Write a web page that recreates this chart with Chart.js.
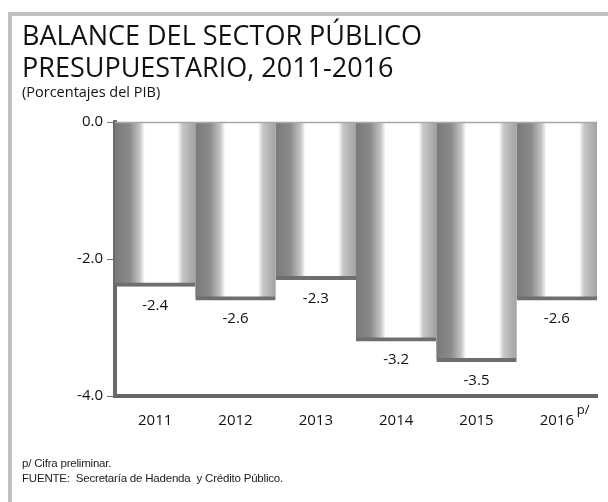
<!DOCTYPE html>
<html>
<head>
<meta charset="utf-8">
<script src="https://cdn.jsdelivr.net/npm/chart.js@4"></script>
<style>
  html, body { margin: 0; padding: 0; background: #fff; }
  #wrap { position: relative; width: 608px; height: 502px; overflow: hidden; background: #fff; }
  .bar-top { position: absolute; left: 8px; top: 12px; width: 600px; height: 4px; background: #c0c0c0; z-index: 5; }
  .bar-left { position: absolute; left: 8px; top: 12px; width: 4px; height: 490px; background: #c0c0c0; z-index: 5; }
  .txt { position: absolute; left: 22px; color: #111; white-space: nowrap; z-index: 3; }
  #title { top: 19px; font: 400 27px "Open Sans", sans-serif; line-height: 32px; }
  #sub { top: 82px; font: 400 14.5px "Open Sans", sans-serif; }
  #notes { top: 456px; font: 400 11.5px "Liberation Sans Narrow", "Liberation Sans", sans-serif; line-height: 15px; color: #222; letter-spacing: -0.2px; }
  #chartBox { position: absolute; left: 0; top: 0; width: 608px; height: 502px; z-index: 1; }
</style>
</head>
<body>
<div id="wrap">
  <div id="chartBox"><canvas id="balanceChart" width="608" height="502"></canvas></div>
  <div class="bar-top"></div>
  <div class="bar-left"></div>
  <div class="txt" id="title">BALANCE DEL SECTOR PÚBLICO<br>PRESUPUESTARIO, 2011-2016</div>
  <div class="txt" id="sub">(Porcentajes del PIB)</div>
  <div class="txt" id="notes">p/ Cifra preliminar.<br>FUENTE:&nbsp; Secretaría de Hadenda&nbsp; y Crédito Público.</div>
</div>
<script>
// Balance del sector público presupuestario (% del PIB)
const years = ['2011', '2012', '2013', '2014', '2015', '2016'];
const balance = [-2.4, -2.6, -2.3, -3.2, -3.5, -2.6];
const yTicks = [0, -2, -4];

document.addEventListener('DOMContentLoaded', function() {
  const ctx = document.getElementById('balanceChart').getContext('2d');
  const labelFont = '15px "Open Sans", sans-serif';

  // Cylinder-like horizontal gradient for each bar
  function barGradient(context) {
    const chart = context.chart;
    if (!chart.chartArea || !chart.scales.x) return '#cccccc';
    const xs = chart.scales.x;
    const w = xs.width / years.length;
    const left = xs.getPixelForValue(context.dataIndex) - w / 2;
    const g = chart.ctx.createLinearGradient(left, 0, left + w, 0);
    g.addColorStop(0, '#7a7a7a');
    g.addColorStop(0.18, '#8a8a8a');
    g.addColorStop(0.31, '#c4c4c4');
    g.addColorStop(0.37, '#ffffff');
    g.addColorStop(0.78, '#ffffff');
    g.addColorStop(0.84, '#c6c6c6');
    g.addColorStop(1, '#a2a2a2');
    return g;
  }

  // Zero line, value labels under each bar and the p/ mark after 2016
  const valueLabels = {
    id: 'valueLabels',
    afterDatasetsDraw(chart) {
      const c = chart.ctx;
      const area = chart.chartArea;
      const y0 = Math.round(chart.scales.y.getPixelForValue(0)) + 0.5;
      c.save();
      c.strokeStyle = '#a8a8a8';
      c.lineWidth = 1.5;
      c.beginPath();
      c.moveTo(area.left, y0);
      c.lineTo(area.right, y0);
      c.stroke();

      const meta = chart.getDatasetMeta(0);
      c.font = labelFont;
      c.fillStyle = '#111';
      c.textAlign = 'center';
      c.textBaseline = 'middle';
      meta.data.forEach(function(bar, i) {
        c.fillText(balance[i].toFixed(1), bar.x, bar.y + 19);
      });
      const xs = chart.scales.x;
      c.font = '13px "Open Sans", sans-serif';
      c.textAlign = 'left';
      c.fillText('p/', xs.getPixelForValue(years.length - 1) + 20, 410);
      c.restore();
    }
  };

  new Chart(ctx, {
    type: 'bar',
    data: {
      labels: years,
      datasets: [{
        label: 'Balance',
        data: balance,
        backgroundColor: barGradient,
        borderColor: '#6e6e6e',
        borderWidth: { top: 0, left: 0, right: 0, bottom: 4 },
        barPercentage: 1,
        categoryPercentage: 1
      }]
    },
    options: {
      responsive: false,
      animation: false,
      layout: { padding: { top: 122, right: 11, bottom: 66, left: 0 } },
      plugins: {
        legend: { display: false },
        tooltip: { enabled: false }
      },
      scales: {
        x: {
          afterFit: function(scale) { scale.height = 40; },
          grid: { display: true, drawOnChartArea: false, drawTicks: false },
          border: { display: true, color: '#666666', width: 4 },
          ticks: { color: '#111', font: { family: 'Open Sans', size: 15 }, padding: 16, maxRotation: 0 }
        },
        y: {
          min: -4,
          max: 0,
          afterFit: function(scale) { scale.width = 115; },
          afterBuildTicks: function(scale) {
            scale.ticks = yTicks.map(function(v) { return { value: v }; });
          },
          grid: {
            drawOnChartArea: false,
            tickColor: '#777777',
            tickLength: 8,
            drawTicks: true
          },
          border: { display: true, color: '#6a6a6a', width: 4 },
          ticks: {
            color: '#111',
            font: { family: 'Open Sans', size: 15 },
            padding: 4,
            callback: function(v) { return Number(v).toFixed(1); }
          }
        }
      }
    },
    plugins: [valueLabels]
  });
});
</script>
</body>
</html>
